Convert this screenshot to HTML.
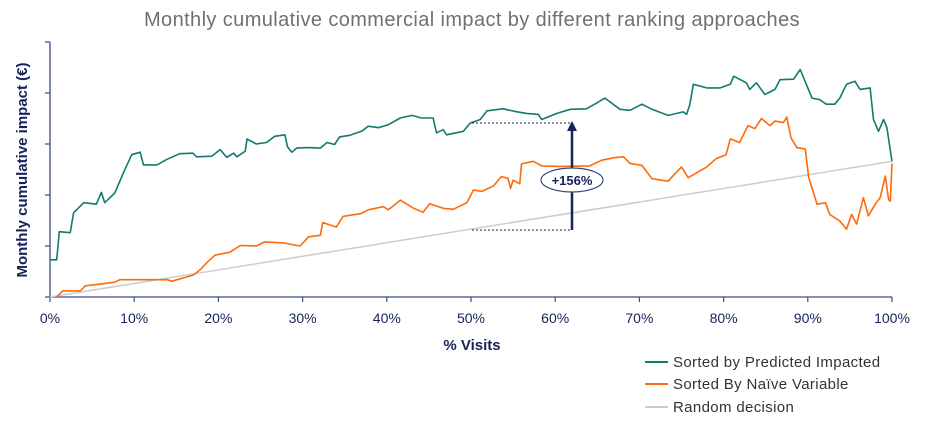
<!DOCTYPE html>
<html><head><meta charset="utf-8"><style>
body{margin:0;background:#fff;}
svg{display:block;font-family:"Liberation Sans",sans-serif;}
</style></head><body>
<svg id="chart" width="936" height="423" viewBox="0 0 936 423">
<text x="472" y="26" text-anchor="middle" font-size="20" letter-spacing="0.4" fill="#707070">Monthly cumulative commercial impact by different ranking approaches</text>
<text transform="translate(27,170) rotate(-90)" text-anchor="middle" font-size="15" font-weight="bold" fill="#16235a">Monthly cumulative impact (€)</text>
<text x="472" y="350" text-anchor="middle" font-size="15" font-weight="bold" fill="#16235a">% Visits</text>
<g id="axes"></g>
<g id="series"></g>
<g>
<line x1="472" y1="123" x2="572" y2="123" stroke="#16235a" stroke-width="1" stroke-dasharray="2,2"/>
<line x1="472" y1="230" x2="572" y2="230" stroke="#16235a" stroke-width="1" stroke-dasharray="2,2"/>
<line x1="572" y1="230" x2="572" y2="128" stroke="#16235a" stroke-width="2.5"/>
<polygon points="567,131 577,131 572,121" fill="#16235a"/>
<ellipse cx="572" cy="180" rx="31" ry="12" fill="#fff" stroke="#3a4a80" stroke-width="1.2"/>
<text x="572" y="185" text-anchor="middle" font-size="13" font-weight="bold" fill="#16235a">+156%</text>
</g>
<g font-size="15" letter-spacing="0.35" fill="#333">
<line x1="645" y1="362" x2="668" y2="362" stroke="#127a6e" stroke-width="2"/>
<text x="673" y="367">Sorted by Predicted Impacted</text>
<line x1="645" y1="384" x2="668" y2="384" stroke="#ff6a0a" stroke-width="2"/>
<text x="673" y="389">Sorted By Naïve Variable</text>
<line x1="645" y1="407" x2="668" y2="407" stroke="#cccccc" stroke-width="2"/>
<text x="673" y="412">Random decision</text>
</g>
</svg>
<script>
const xTicks=[0,10,20,30,40,50,60,70,80,90,100];
const yTicks=[0,1,2,3,4,5];
const greenX=[0,0.8,1.1,2.4,2.8,4,5.5,6.1,6.5,7.7,8.7,9.7,10.7,11.1,12.7,13.9,15.4,17,17.4,19.2,20.2,21,21.8,22.2,23.2,23.4,24.5,25.7,26.7,27.9,28.2,28.7,29.3,30.5,32.1,32.9,33.8,34.4,35.6,37,37.8,39,40.2,41.6,43,44.1,45.5,45.9,46.7,47.1,49.1,49.9,51.1,51.9,53.8,55.2,56.6,58,58.4,60.2,61.8,63.7,64.9,65.9,67.7,68.9,70.3,71.5,73.4,75.2,75.6,76,76.4,78,79.6,80.8,81.2,82.7,83.1,83.9,84.9,86.1,86.7,88.3,89.1,90.5,91.4,92.2,93.2,93.8,94.6,95.6,96.2,97.4,97.8,98.4,99,99.4,100];
const greenY=[0.73,0.73,1.28,1.26,1.65,1.85,1.82,2.05,1.85,2.04,2.43,2.79,2.84,2.59,2.59,2.7,2.81,2.82,2.75,2.76,2.89,2.74,2.82,2.75,2.86,3.1,3.0,3.03,3.15,3.18,2.95,2.84,2.92,2.93,2.92,3.03,2.99,3.14,3.17,3.25,3.35,3.32,3.38,3.51,3.56,3.51,3.51,3.22,3.28,3.18,3.25,3.41,3.48,3.65,3.69,3.64,3.6,3.58,3.48,3.6,3.68,3.69,3.8,3.9,3.68,3.66,3.78,3.68,3.56,3.63,3.58,3.78,4.17,4.1,4.1,4.17,4.33,4.2,4.07,4.2,3.97,4.07,4.26,4.27,4.46,3.9,3.87,3.78,3.78,3.9,4.17,4.23,4.07,4.1,3.48,3.25,3.48,3.32,2.66];
const orangeX=[0.8,1.5,3.6,4.2,5.7,7.7,8.3,10.7,13.9,14.5,17,17.8,18.6,19.6,21.4,22.6,24.5,25.5,27.7,29.7,30.7,32.1,32.4,34,34.8,37,37.8,39.6,40.2,41.6,43.2,44.3,45.1,46.7,47.9,49.5,50.3,51.3,52.7,53.6,54.4,54.7,55,55.8,56,57.4,58.4,60.6,64.1,65.5,66.9,68.1,68.9,70.3,71.5,73.4,75,75.8,78,79.1,80.3,80.8,81.9,82.9,83.7,84.5,85.5,86.1,87.1,87.5,88,88.7,89.7,90.1,91.1,92.1,92.6,93.8,94.6,95.2,95.8,96.6,97.2,98,98.6,99.2,99.6,99.8,100];
const orangeY=[0,0.12,0.12,0.22,0.25,0.29,0.34,0.34,0.34,0.31,0.43,0.53,0.67,0.82,0.88,1.01,1.0,1.08,1.06,1.0,1.18,1.21,1.46,1.37,1.58,1.64,1.71,1.77,1.71,1.9,1.74,1.66,1.83,1.74,1.72,1.85,2.1,2.07,2.18,2.36,2.33,2.13,2.29,2.22,2.61,2.66,2.57,2.56,2.57,2.68,2.73,2.75,2.62,2.58,2.32,2.27,2.55,2.34,2.55,2.71,2.79,3.1,3.03,3.36,3.3,3.5,3.36,3.45,3.42,3.53,3.12,2.93,2.9,2.35,1.82,1.85,1.62,1.49,1.33,1.62,1.43,1.95,1.59,1.82,1.95,2.37,1.91,1.88,2.62];
const randomX=[0,100];
const randomY=[0,2.66];
const X0=50,X1=892,Y0=297,Y1=42,YMAX=5;
const sx=v=>X0+(X1-X0)*v/100;
const sy=v=>Y0-(Y0-Y1)*v/YMAX;
const NS="http://www.w3.org/2000/svg";
const axes=document.getElementById('axes'),ser=document.getElementById('series');
function mk(tag,attrs,parent){const e=document.createElementNS(NS,tag);for(const k in attrs)e.setAttribute(k,attrs[k]);parent.appendChild(e);return e;}
const ax=mk('line',{x1:X0,y1:Y0,x2:X1,y2:Y0,stroke:'#3a4a8a','stroke-width':1.3},axes);


const ay=mk('line',{x1:X0,y1:Y0,x2:X0,y2:Y1,stroke:'#3a4a8a','stroke-width':1.3},axes);


xTicks.forEach(t=>{
 const tk=mk('line',{x1:sx(t),y1:Y0,x2:sx(t),y2:Y0+5,stroke:'#3a4a8a','stroke-width':1.2},axes);
 
 
 const tx=mk('text',{x:sx(t),y:Y0+26,'text-anchor':'middle','font-size':14,fill:'#16235a'},axes);
 tx.textContent=t+'%';
 
 
});
yTicks.forEach(t=>{
 const tk=mk('line',{x1:X0-5,y1:sy(t),x2:X0,y2:sy(t),stroke:'#3a4a8a','stroke-width':1.2},axes);
 
 
});
function line(xs,ys,color,w,name){
 const d=xs.map((x,i)=>(i?'L':'M')+sx(x).toFixed(1)+','+sy(ys[i]).toFixed(1)).join('');
 const p=mk('path',{d:d,fill:'none',stroke:color,'stroke-width':w,'stroke-linejoin':'round'},ser);
 
 
}
line(randomX,randomY,'#cccccc',1.5,'random-decision-line');
line(orangeX,orangeY,'#ff6a0a',1.6,'naive-variable-line');
line(greenX,greenY,'#127a6e',1.6,'predicted-impact-line');
</script>
</body></html>
